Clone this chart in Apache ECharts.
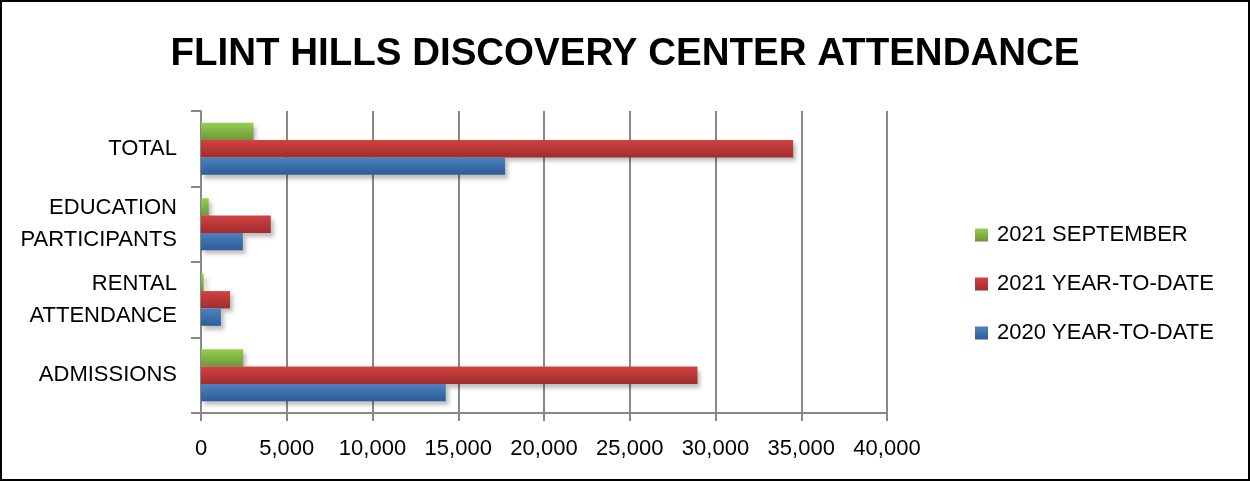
<!DOCTYPE html>
<html><head><meta charset="utf-8">
<script src="https://cdn.jsdelivr.net/npm/echarts@6/dist/echarts.min.js"></script>
<style>
html,body{margin:0;padding:0;background:#fff;}
#c{width:1250px;height:481px;box-sizing:border-box;border:2px solid #000;}
</style></head>
<body><div id="c"></div>
<script>
const categories = ['ADMISSIONS', 'RENTAL\nATTENDANCE', 'EDUCATION\nPARTICIPANTS', 'TOTAL'];
const ytd2020 = [14270, 1160, 2440, 17730];
const ytd2021 = [28950, 1690, 4070, 34530];
const sep2021 = [2460, 157, 450, 3060];
const xTicks = [0, 5000, 10000, 15000, 20000, 25000, 30000, 35000, 40000];

const FONT = '"Liberation Sans", Arial, sans-serif';
function grad(top, bottom) {
  return new echarts.graphic.LinearGradient(0, 0, 0, 1, [{offset: 0, color: top}, {offset: 1, color: bottom}]);
}
const chart = echarts.init(document.getElementById('c'));
const barStyle = (t, b) => ({color: grad(t, b), shadowColor: 'rgba(0,0,0,0.25)', shadowBlur: 4, shadowOffsetX: 3, shadowOffsetY: 4});
chart.setOption({
  animation: false,
  title: {text: 'FLINT HILLS DISCOVERY CENTER ATTENDANCE', left: 'center', top: 28,
    textStyle: {fontFamily: FONT, fontWeight: 'bold', fontSize: 38.5, color: '#000'}},
  legend: {orient: 'vertical', left: 968, top: 217, itemGap: 27, itemWidth: 13, itemHeight: 13, icon: 'rect',
    data: ['2021 SEPTEMBER', '2021 YEAR-TO-DATE', '2020 YEAR-TO-DATE'],
    textStyle: {fontFamily: FONT, fontSize: 22, color: '#000', padding: [0, 0, 0, 4]}},
  grid: {left: 199, right: 361, top: 109, bottom: 66, containLabel: false},
  xAxis: {type: 'value', min: 0, max: 40000, interval: 5000,
    axisLine: {show: true, lineStyle: {color: '#888', width: 2}},
    axisTick: {show: true, length: 8, lineStyle: {color: '#888', width: 2}},
    splitLine: {show: true, lineStyle: {color: '#888', width: 2}},
    axisLabel: {margin: 25, fontFamily: FONT, fontSize: 22, color: '#000',
      formatter: v => v.toLocaleString('en-US')}},
  yAxis: {type: 'category', data: categories,
    axisLine: {show: true, lineStyle: {color: '#888', width: 2}},
    axisTick: {show: true, length: 10, lineStyle: {color: '#888', width: 2}},
    axisLabel: {margin: 24, fontFamily: FONT, fontSize: 22, color: '#000', lineHeight: 32, align: 'right'}},
  series: [
    {name: '2021 SEPTEMBER', type: 'bar', data: sep2021, barGap: '0%', barCategoryGap: '31%',
      itemStyle: barStyle('#92d050', '#71953a')},
    {name: '2021 YEAR-TO-DATE', type: 'bar', data: ytd2021, barGap: '0%', barCategoryGap: '31%',
      itemStyle: barStyle('#d24242', '#a12c2c')},
    {name: '2020 YEAR-TO-DATE', type: 'bar', data: ytd2020, barGap: '0%', barCategoryGap: '31%',
      itemStyle: barStyle('#4f81bd', '#2c5d98')}
  ]
});
</script></body></html>
